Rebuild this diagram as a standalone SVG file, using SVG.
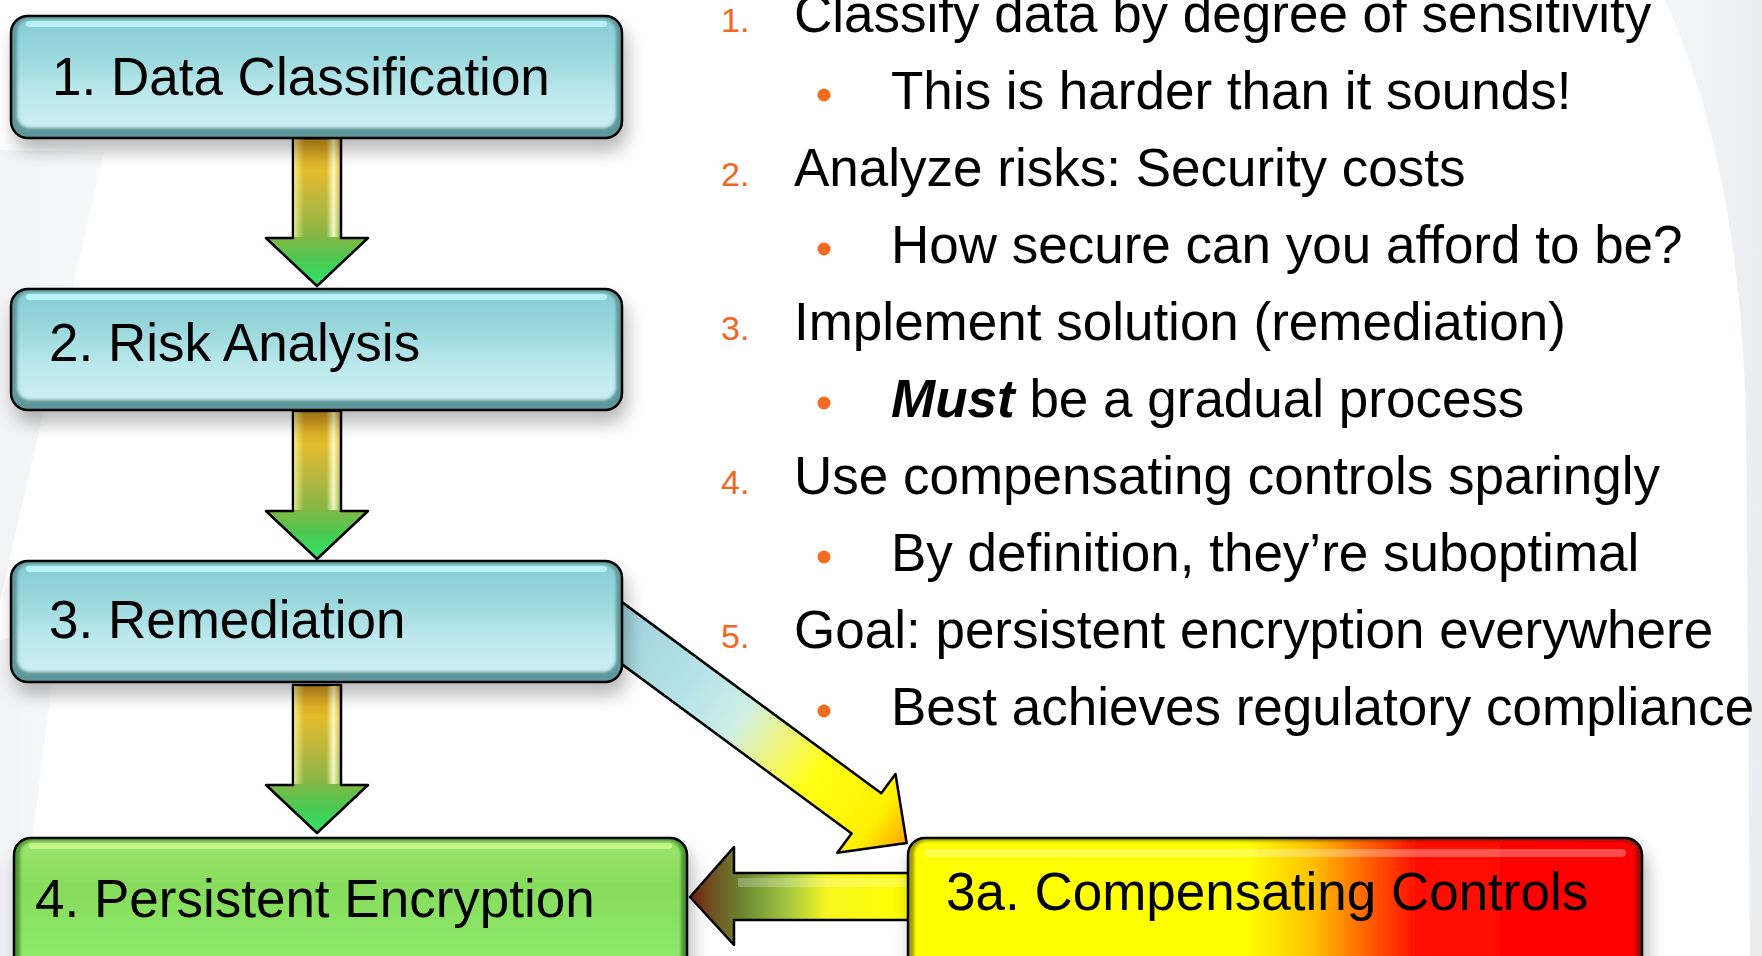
<svg xmlns="http://www.w3.org/2000/svg" width="1762" height="956" viewBox="0 0 1762 956">
  <defs>
    <style>
      .lbl { font-family: "Liberation Sans", Arial, sans-serif; font-size: 53px; fill: #000; }
      .txt { font-family: "Liberation Sans", Arial, sans-serif; font-size: 53px; fill: #000; }
      .num { font-family: "Liberation Sans", Arial, sans-serif; font-size: 34px; fill: #f26522; }
      .dot { fill: #f36b21; }
      .outline { stroke: #000; stroke-width: 2.5; stroke-linejoin: round; }
      .edge-teal { fill: #5f9699; }
      .edge-green { fill: #4c9834; }
    </style>

    <!-- soft drop shadow under the process boxes -->
    <filter id="shadow" x="-10%" y="-20%" width="125%" height="160%">
      <feGaussianBlur in="SourceAlpha" stdDeviation="9"/>
      <feOffset dx="4" dy="12" result="b"/>
      <feComponentTransfer><feFuncA type="linear" slope="0.28"/></feComponentTransfer>
      <feMerge><feMergeNode/><feMergeNode in="SourceGraphic"/></feMerge>
    </filter>
    <filter id="soft" x="-5%" y="-10%" width="110%" height="120%">
      <feGaussianBlur stdDeviation="1.6"/>
    </filter>

    <!-- backdrop swooshes -->
    <linearGradient id="sideShade" x1="0" y1="0" x2="1" y2="0">
      <stop offset="0" stop-color="#f5f6f8"/>
      <stop offset="1" stop-color="#eaedf0"/>
    </linearGradient>
    <linearGradient id="leftShade" x1="0" y1="0" x2="1" y2="0">
      <stop offset="0" stop-color="#f2f3f5"/>
      <stop offset="1" stop-color="#f8f9fa"/>
    </linearGradient>

    <!-- box bodies -->
    <linearGradient id="tealBody" x1="0" y1="0" x2="0" y2="1">
      <stop offset="0" stop-color="#86cdd3"/>
      <stop offset="0.35" stop-color="#9ad8dd"/>
      <stop offset="0.7" stop-color="#bde9ed"/>
      <stop offset="1" stop-color="#c8eef1"/>
    </linearGradient>
    <linearGradient id="greenBody" x1="0" y1="0" x2="0" y2="1">
      <stop offset="0" stop-color="#9de46c"/>
      <stop offset="0.35" stop-color="#86dc5c"/>
      <stop offset="1" stop-color="#8eec6e"/>
    </linearGradient>
    <linearGradient id="warnBody" x1="0" y1="0" x2="1" y2="0">
      <stop offset="0" stop-color="#ffff00"/>
      <stop offset="0.46" stop-color="#ffff00"/>
      <stop offset="0.55" stop-color="#ffc200"/>
      <stop offset="0.62" stop-color="#ff6a00"/>
      <stop offset="0.7" stop-color="#ff0a00"/>
      <stop offset="1" stop-color="#ff0000"/>
    </linearGradient>
    <linearGradient id="warnEdge" x1="0" y1="0" x2="1" y2="0">
      <stop offset="0" stop-color="#a09c00"/>
      <stop offset="0.46" stop-color="#a09c00"/>
      <stop offset="0.7" stop-color="#9e1400"/>
      <stop offset="1" stop-color="#9e1000"/>
    </linearGradient>

    <!-- vertical flow arrows -->
    <linearGradient id="downFill" x1="0" y1="0" x2="0" y2="1">
      <stop offset="0" stop-color="#d49a1c"/>
      <stop offset="0.22" stop-color="#e2bc2c"/>
      <stop offset="0.45" stop-color="#b8b63e"/>
      <stop offset="0.66" stop-color="#84b644"/>
      <stop offset="0.82" stop-color="#4cc852"/>
      <stop offset="1" stop-color="#2ee466"/>
    </linearGradient>
    <linearGradient id="shaftShine" x1="0" y1="0" x2="1" y2="0">
      <stop offset="0" stop-color="#ffffa0" stop-opacity="0.7"/>
      <stop offset="0.22" stop-color="#ffffa0" stop-opacity="0"/>
      <stop offset="0.7" stop-color="#ffffd0" stop-opacity="0"/>
      <stop offset="0.86" stop-color="#ffffd0" stop-opacity="0.9"/>
      <stop offset="1" stop-color="#ffffd0" stop-opacity="0.1"/>
    </linearGradient>
    <path id="downArrow" d="M-24,0 L24,0 L24,100 L51,100 L0,148 L-51,100 L-24,100 Z"/>

    <!-- remediation to compensating controls -->
    <linearGradient id="diagFill" gradientUnits="userSpaceOnUse" x1="0" y1="0" x2="381" y2="0">
      <stop offset="0" stop-color="#9ccdd6"/>
      <stop offset="0.3" stop-color="#b6e3ea"/>
      <stop offset="0.45" stop-color="#cdeee6"/>
      <stop offset="0.58" stop-color="#eef37c"/>
      <stop offset="0.7" stop-color="#ffff14"/>
      <stop offset="0.9" stop-color="#fff000"/>
      <stop offset="1" stop-color="#ffa400"/>
    </linearGradient>

    <!-- compensating controls to persistent encryption -->
    <linearGradient id="backFill" gradientUnits="userSpaceOnUse" x1="690" y1="0" x2="910" y2="0">
      <stop offset="0" stop-color="#7c2412"/>
      <stop offset="0.12" stop-color="#6c5824"/>
      <stop offset="0.26" stop-color="#6e8e34"/>
      <stop offset="0.45" stop-color="#a8c842"/>
      <stop offset="0.62" stop-color="#f6f620"/>
      <stop offset="1" stop-color="#ffff00"/>
    </linearGradient>
  </defs>

  <!-- backdrop -->
  <rect width="1762" height="956" fill="#ffffff"/>
  <path d="M0,150 L104,152 L0,600 Z" fill="url(#leftShade)"/>
  <path d="M0,640 L58,632 L18,956 L0,956 Z" fill="url(#leftShade)"/>
  <path d="M1665,0 C1715,110 1742,250 1746,420 L1750,956 L1762,956 L1762,0 Z" fill="url(#sideShade)"/>

  <!-- connectors -->
  <g id="connectors">
    <g transform="translate(317,138)">
      <use href="#downArrow" fill="url(#downFill)" class="outline"/>
      <rect x="-23" y="1" width="46" height="98" fill="url(#shaftShine)"/>
    </g>
    <g transform="translate(317,411)">
      <use href="#downArrow" fill="url(#downFill)" class="outline"/>
      <rect x="-23" y="1" width="46" height="98" fill="url(#shaftShine)"/>
    </g>
    <g transform="translate(317,685)">
      <use href="#downArrow" fill="url(#downFill)" class="outline"/>
      <rect x="-23" y="1" width="46" height="98" fill="url(#shaftShine)"/>
    </g>

    <g transform="translate(600,617) rotate(36.4)">
      <polygon points="0,-25 331,-25 331,-49 381,0 331,49 331,25 0,25" fill="url(#diagFill)" class="outline"/>
    </g>

    <polygon points="690,897 734,847 734,873 915,873 915,920 734,920 734,945" fill="url(#backFill)" class="outline"/>
    <rect x="738" y="878" width="175" height="9" fill="#ffffff" opacity="0.25"/>
  </g>

  <!-- process boxes -->
  <g id="node-data-classification" filter="url(#shadow)">
    <rect x="11" y="16" width="611" height="122" rx="17" class="edge-teal outline"/>
    <rect x="17" y="19" width="599" height="109" rx="13" fill="url(#tealBody)" filter="url(#soft)"/>
    <rect x="26" y="21" width="581" height="6" rx="3" fill="#bff9fc" opacity="0.85"/>
    <text x="52" y="95" class="lbl">1. Data Classification</text>
  </g>

  <g id="node-risk-analysis" filter="url(#shadow)">
    <rect x="11" y="289" width="611" height="121" rx="17" class="edge-teal outline"/>
    <rect x="17" y="292" width="599" height="108" rx="13" fill="url(#tealBody)" filter="url(#soft)"/>
    <rect x="26" y="294" width="581" height="6" rx="3" fill="#bff9fc" opacity="0.85"/>
    <text x="49" y="361" class="lbl">2. Risk Analysis</text>
  </g>

  <g id="node-remediation" filter="url(#shadow)">
    <rect x="11" y="561" width="611" height="121" rx="17" class="edge-teal outline"/>
    <rect x="17" y="564" width="599" height="108" rx="13" fill="url(#tealBody)" filter="url(#soft)"/>
    <rect x="26" y="566" width="581" height="6" rx="3" fill="#bff9fc" opacity="0.85"/>
    <text x="49" y="638" class="lbl">3. Remediation</text>
  </g>

  <g id="node-persistent-encryption" filter="url(#shadow)">
    <rect x="14" y="838" width="673" height="140" rx="17" class="edge-green outline"/>
    <rect x="20" y="841" width="661" height="130" rx="13" fill="url(#greenBody)" filter="url(#soft)"/>
    <rect x="29" y="843" width="643" height="6" rx="3" fill="#c8f890" opacity="0.9"/>
    <text x="35" y="917" class="lbl">4. Persistent Encryption</text>
  </g>

  <g id="node-compensating-controls" filter="url(#shadow)">
    <rect x="908" y="838" width="734" height="140" rx="17" fill="url(#warnEdge)" class="outline"/>
    <rect x="914" y="841" width="722" height="130" rx="13" fill="url(#warnBody)" filter="url(#soft)"/>
    <rect x="924" y="849" width="702" height="8" rx="4" fill="#ffffff" opacity="0.3"/>
    <text x="946" y="910" class="txt">3a. Compensating Controls</text>
  </g>

  <!-- numbered notes -->
  <g id="notes">
    <text x="721" y="32" class="num">1.</text>
    <text x="794" y="32" class="txt">Classify data by degree of sensitivity</text>
    <circle cx="824" cy="95" r="6.5" class="dot"/>
    <text x="891" y="109" class="txt">This is harder than it sounds!</text>

    <text x="721" y="186" class="num">2.</text>
    <text x="794" y="186" class="txt">Analyze risks: Security costs</text>
    <circle cx="824" cy="249" r="6.5" class="dot"/>
    <text x="891" y="263" class="txt">How secure can you afford to be?</text>

    <text x="721" y="340" class="num">3.</text>
    <text x="794" y="340" class="txt">Implement solution (remediation)</text>
    <circle cx="824" cy="403" r="6.5" class="dot"/>
    <text x="891" y="417" class="txt"><tspan font-weight="bold" font-style="italic">Must</tspan> be a gradual process</text>

    <text x="721" y="494" class="num">4.</text>
    <text x="794" y="494" class="txt">Use compensating controls sparingly</text>
    <circle cx="824" cy="557" r="6.5" class="dot"/>
    <text x="891" y="571" class="txt">By definition, they’re suboptimal</text>

    <text x="721" y="648" class="num">5.</text>
    <text x="794" y="648" class="txt">Goal: persistent encryption everywhere</text>
    <circle cx="824" cy="711" r="6.5" class="dot"/>
    <text x="891" y="725" class="txt">Best achieves regulatory compliance</text>
  </g>
</svg>
